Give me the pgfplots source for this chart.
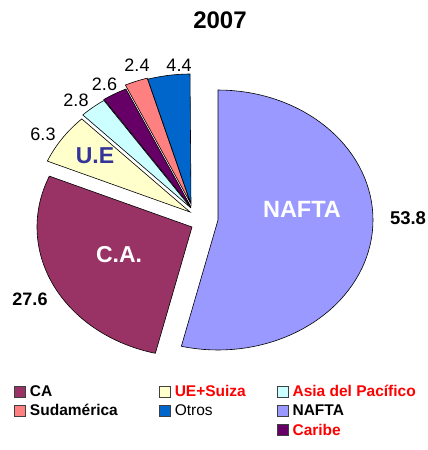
\documentclass[border=0pt]{standalone}
\usepackage{pgfplots}
\pgfplotsset{compat=1.18}
\usepackage{fontspec}
\setmainfont{Liberation Sans}
\definecolor{cNAFTA}{HTML}{9999FF}
\definecolor{cCA}{HTML}{993366}
\definecolor{cUE}{HTML}{FFFFCC}
\definecolor{cAsia}{HTML}{CCFFFF}
\definecolor{cCaribe}{HTML}{660066}
\definecolor{cSud}{HTML}{FF8080}
\definecolor{cOtros}{HTML}{0066CC}
\definecolor{cUEtxt}{HTML}{333399}
\definecolor{cRed}{HTML}{FF0000}
% shares (percent)
\def\vNAFTA{53.8}
\def\vCA{27.6}
\def\vUE{6.3}
\def\vAsia{2.8}
\def\vCaribe{2.6}
\def\vSud{2.4}
\def\vOtros{4.4}
\newcommand{\pieslice}[5]{%
  \addplot[draw=black, line width=0.6bp, fill=#1, domain=#4:#5, samples=72,
    variable=\t, forget plot]
    ({#2+155*cos(\t)},{#3-130*sin(\t)}) -- (axis cs:#2,#3) -- cycle;}
\begin{document}
\begin{tikzpicture}
\pgfmathsetmacro\aA{90}
\pgfmathsetmacro\aB{\aA-3.6*\vNAFTA}
\pgfmathsetmacro\aC{\aB-3.6*\vCA}
\pgfmathsetmacro\aD{\aC-3.6*\vUE}
\pgfmathsetmacro\aE{\aD-3.6*\vAsia}
\pgfmathsetmacro\aF{\aE-3.6*\vCaribe}
\pgfmathsetmacro\aG{\aF-3.6*\vSud}
\pgfmathsetmacro\aH{\aG-3.6*\vOtros}
\begin{axis}[
  scale only axis, width=428bp, height=450bp,
  xmin=0, xmax=428, ymin=0, ymax=450, y dir=reverse,
  hide axis, clip=false,
  legend columns=3,
  legend cell align=left,
  legend image code/.code={\draw[#1, draw=black!75, line width=0.8bp] (0bp,-5.5bp) rectangle (11bp,5.5bp);},
  legend style={at={(axis cs:11,382)}, anchor=north west, draw=none, fill=none,
    font=\bfseries\fontsize{15.5bp}{18bp}\selectfont,
    nodes={inner sep=1bp},
    row sep=4.5bp,
    /tikz/every odd column/.append style={column sep=3bp},
    /tikz/every even column/.append style={column sep=4bp}},
]
\pieslice{cNAFTA}{218}{220}{\aB}{\aA}
\pieslice{cCA}{192}{227}{\aC}{\aB}
\pieslice{cUE}{190}{212}{\aD}{\aC}
\pieslice{cAsia}{191}{208}{\aE}{\aD}
\pieslice{cCaribe}{191}{207}{\aF}{\aE}
\pieslice{cSud}{190.5}{203}{\aG}{\aF}
\pieslice{cOtros}{191}{204}{\aH}{\aG}

\addlegendimage{fill=cCA}
\addlegendentry{\makebox[124bp][l]{CA}}
\addlegendimage{fill=cUE}
\addlegendentry{\makebox[97bp][l]{\textcolor{cRed}{UE+Suiza}}}
\addlegendimage{fill=cAsia}
\addlegendentry{\textcolor{cRed}{Asia del Pacífico}}
\addlegendimage{fill=cSud}
\addlegendentry{\makebox[124bp][l]{Sudamérica}}
\addlegendimage{fill=cOtros}
\addlegendentry{\makebox[97bp][l]{\mdseries Otros}}
\addlegendimage{fill=cNAFTA}
\addlegendentry{NAFTA}
\addlegendimage{empty legend}
\addlegendentry{}
\addlegendimage{empty legend}
\addlegendentry{}
\addlegendimage{fill=cCaribe}
\addlegendentry{\textcolor{cRed}{Caribe}}

\node[font=\bfseries\fontsize{24bp}{28bp}\selectfont, inner sep=0] at (axis cs:220,20.5) {2007};
\begin{scope}[every node/.style={inner sep=0, font=\fontsize{18bp}{20bp}\selectfont}]
\node at (axis cs:179,65) {\vOtros};
\node at (axis cs:137,65) {\vSud};
\node at (axis cs:104.5,84) {\vCaribe};
\node at (axis cs:76,100) {\vAsia};
\node at (axis cs:43,134) {\vUE};
\node[font=\bfseries\fontsize{18bp}{20bp}\selectfont] at (axis cs:30,299) {\vCA};
\node[font=\bfseries\fontsize{18.5bp}{20bp}\selectfont] at (axis cs:408,218) {\vNAFTA};
\end{scope}
\node[inner sep=0, text=white, font=\bfseries\fontsize{23.5bp}{26bp}\selectfont] at (axis cs:302,209) {NAFTA};
\node[inner sep=0, text=white, font=\bfseries\fontsize{23bp}{26bp}\selectfont] at (axis cs:119,255) {C.A.};
\node[inner sep=0, text=cUEtxt, font=\bfseries\fontsize{23bp}{26bp}\selectfont] at (axis cs:95,156) {U.E};
\end{axis}
\pgfresetboundingbox
\path (0,0) rectangle (428bp,450bp);
\end{tikzpicture}
\end{document}
